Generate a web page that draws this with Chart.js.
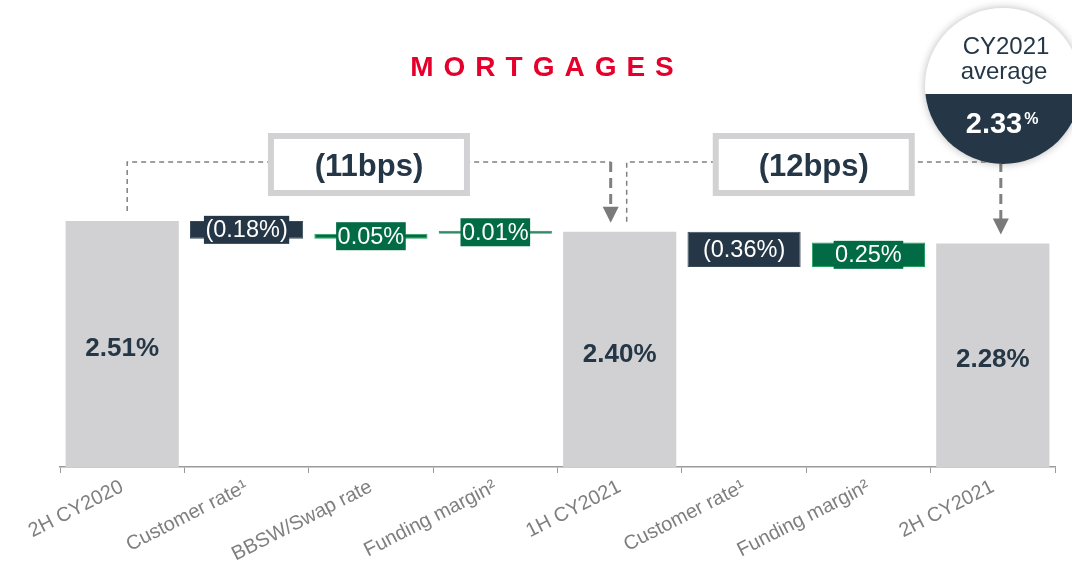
<!DOCTYPE html>
<html>
<head>
<meta charset="utf-8">
<script src="https://cdn.jsdelivr.net/npm/chart.js@4"></script>
<style>
html, body { margin: 0; padding: 0; background: #fff; }
#wrap { width: 1072px; height: 567px; }
</style>
</head>
<body>
<div id="wrap"><canvas id="myChart" width="1072" height="567"></canvas></div>
<script>
let categories = ['2H CY2020', 'Customer rate¹', 'BBSW/Swap rate', 'Funding margin²', '1H CY2021', 'Customer rate¹', 'Funding margin²', '2H CY2021'];
let values = [2.51, -0.18, 0.05, 0.01, 2.40, -0.36, 0.25, 2.28];
let isTotal = [true, false, false, false, true, false, false, true];
let brackets = [[0, 4, '(11bps)'], [4, 7, '(12bps)']];
let averageLines = ['CY2021', 'average'];
let averageValue = '2.33';
let titleText = 'MORTGAGES';

const NAVY = '#253746';
const GREEN = '#006b45';
const GREY_BAR = '#d1d1d3';
const FONT = '"Liberation Sans", Arial, sans-serif';

// build floating ranges for the waterfall
let ranges = [];
let running = 0;
for (let i = 0; i < values.length; i++) {
    if (isTotal[i]) {
        ranges.push([0, values[i]]);
        running = values[i];
    } else {
        let end = +(running + values[i]).toFixed(2);
        ranges.push([Math.min(running, end), Math.max(running, end)]);
        running = end;
    }
}
let fills = values.map((v, i) => isTotal[i] ? GREY_BAR : (v < 0 ? NAVY : GREEN));
let borders = values.map((v, i) => isTotal[i] ? GREY_BAR : (v < 0 ? '#3a4b5a' : '#22a05c'));

function fmt(v, total) {
    let s = Math.abs(v).toFixed(2) + '%';
    if (!total && v < 0) s = '(' + s + ')';
    return s;
}

const labelPlugin = {
    id: 'waterfallLabels',
    afterDatasetsDraw(chart) {
        const ctx = chart.ctx;
        const meta = chart.getDatasetMeta(0);
        ctx.save();
        ctx.textAlign = 'center';
        ctx.textBaseline = 'middle';
        meta.data.forEach((bar, i) => {
            let cx = bar.x;
            let cy = (bar.y + bar.base) / 2;
            let txt = fmt(values[i], isTotal[i]);
            if (isTotal[i]) {
                ctx.font = 'bold 26px ' + FONT;
                ctx.fillStyle = NAVY;
                ctx.fillText(txt, cx, cy + 5);
            } else {
                ctx.font = '23.5px ' + FONT;
                let w = ctx.measureText(txt).width + 3;
                ctx.fillStyle = fills[i];
                ctx.fillRect(cx - w / 2, cy - 14, w, 28);
                ctx.fillStyle = '#fff';
                ctx.fillText(txt, cx, cy + 1);
            }
        });
        ctx.restore();
    }
};

function drawBracket(ctx, x1, y1, x2, y2, yTop, text) {
    ctx.save();
    ctx.strokeStyle = '#808080';
    ctx.lineWidth = 1.5;
    ctx.setLineDash([5, 4]);
    ctx.beginPath();
    ctx.moveTo(x1, y1);
    ctx.lineTo(x1, yTop);
    ctx.lineTo(x2, yTop);
    ctx.stroke();
    ctx.lineWidth = 3;
    ctx.setLineDash([10, 6]);
    ctx.beginPath();
    ctx.moveTo(x2, yTop);
    ctx.lineTo(x2, y2 - 15);
    ctx.stroke();
    ctx.setLineDash([]);
    ctx.fillStyle = '#7a7a7a';
    ctx.beginPath();
    ctx.moveTo(x2 - 8, y2 - 16);
    ctx.lineTo(x2 + 8, y2 - 16);
    ctx.lineTo(x2, y2);
    ctx.closePath();
    ctx.fill();
    let cx = (x1 + x2) / 2;
    ctx.fillStyle = '#fff';
    ctx.fillRect(cx - 98, 136, 196, 57);
    ctx.strokeStyle = '#d2d2d4';
    ctx.lineWidth = 6;
    ctx.strokeRect(cx - 98, 136, 196, 57);
    ctx.fillStyle = NAVY;
    ctx.font = 'bold 31px ' + FONT;
    ctx.textAlign = 'center';
    ctx.textBaseline = 'middle';
    ctx.fillText(text, cx, 167);
    ctx.restore();
}

const decorPlugin = {
    id: 'decor',
    afterDraw(chart) {
        const ctx = chart.ctx;
        const meta = chart.getDatasetMeta(0);
        // title
        ctx.save();
        ctx.font = 'bold 28px ' + FONT;
        ctx.fillStyle = '#e4002b';
        ctx.letterSpacing = '10px';
        ctx.textAlign = 'center';
        ctx.textBaseline = 'alphabetic';
        ctx.fillText(titleText, 547, 76);
        ctx.restore();

        brackets.forEach((b, k) => {
            let from = meta.data[b[0]], to = meta.data[b[1]];
            let x1 = from.x + (k === 0 ? 5 : 7);
            let x2 = to.x + (k === 0 ? -9 : 8);
            drawBracket(ctx, x1, from.y - 10, x2, to.y - 9, 162, b[2]);
        });

        // average circle
        let cx = 1003, cy = 86, r = 78;
        ctx.save();
        ctx.shadowColor = 'rgba(0,0,0,0.28)';
        ctx.shadowBlur = 8;
        ctx.fillStyle = '#fff';
        ctx.beginPath();
        ctx.arc(cx, cy, r, 0, Math.PI * 2);
        ctx.fill();
        ctx.restore();
        ctx.save();
        ctx.beginPath();
        ctx.arc(cx, cy, r, 0, Math.PI * 2);
        ctx.clip();
        ctx.fillStyle = NAVY;
        ctx.fillRect(cx - r, 94, r * 2, r * 2);
        ctx.restore();
        ctx.save();
        ctx.textAlign = 'center';
        ctx.textBaseline = 'alphabetic';
        ctx.fillStyle = NAVY;
        ctx.font = '24px ' + FONT;
        ctx.fillText(averageLines[0], cx + 3, 54);
        ctx.fillText(averageLines[1], cx + 1, 79);
        ctx.fillStyle = '#fff';
        ctx.font = 'bold 29px ' + FONT;
        ctx.fillText(averageValue, cx - 9, 133);
        let w = ctx.measureText(averageValue).width;
        ctx.font = 'bold 16px ' + FONT;
        ctx.textAlign = 'left';
        ctx.fillText('%', cx - 9 + w / 2 + 2, 124);
        ctx.restore();
    }
};

const ctx = document.getElementById('myChart').getContext('2d');
const myChart = new Chart(ctx, {
    type: 'bar',
    data: {
        labels: categories,
        datasets: [{
            data: ranges,
            backgroundColor: fills,
            borderColor: borders,
            borderWidth: values.map((v, i) => isTotal[i] ? 0 : 1),
            borderSkipped: false,
            minBarLength: 3,
            categoryPercentage: 1,
            barPercentage: 0.91
        }]
    },
    options: {
        responsive: false,
        animation: false,
        devicePixelRatio: 1,
        layout: { padding: { top: 173, left: 60, right: 17, bottom: 0 } },
        plugins: { legend: { display: false }, tooltip: { enabled: false } },
        scales: {
            x: {
                afterFit: function(scale) { scale.height = 100; },
                grid: { display: true, drawOnChartArea: false, drawTicks: true, tickLength: 6, color: '#9a9a9a', offset: true },
                border: { display: true, color: '#9a9a9a', width: 1.5 },
                ticks: {
                    color: '#7f7f7f',
                    font: { size: 20, family: FONT },
                    minRotation: 27,
                    maxRotation: 27,
                    padding: 2,
                    autoSkip: false
                }
            },
            y: { display: false, min: 0, max: 3.0 }
        }
    },
    plugins: [labelPlugin, decorPlugin]
});
</script>
</body>
</html>
